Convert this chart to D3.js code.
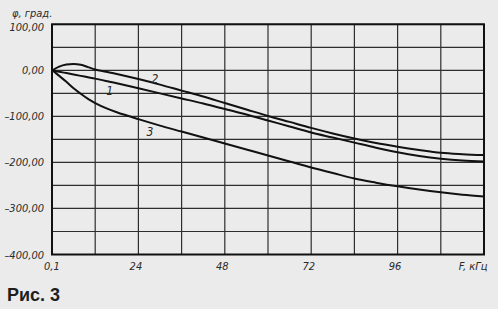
<!DOCTYPE html>
<html>
<head>
<meta charset="utf-8">
<script src="https://cdnjs.cloudflare.com/ajax/libs/d3/7.8.5/d3.min.js"></script>
<style>
  body { margin: 0; background: #ebebeb; }
  svg { display: block; }
</style>
</head>
<body>
<svg width="498" height="309"></svg>
<script>
// frequency, kHz
var freq = [0.1, 2, 4, 6, 8, 10, 12, 15, 18, 24, 30, 36, 42, 48, 54, 60, 66, 72, 78, 84, 90, 96, 102, 108, 114, 120];
// phase, degrees
var curve1 = [0, -3, -6, -9, -12, -15, -18, -23, -28, -39, -50, -61, -72, -84, -96, -109, -122, -135, -146, -157, -168, -178, -186, -192, -196, -198];
var curve2 = [0, 8, 12.5, 14, 12, 7, 2, -3, -8, -19, -31, -44, -57, -71, -85, -99, -112, -125, -137, -148, -158, -166, -173, -179, -182, -184];
var curve3 = [0, -12, -25, -39, -51, -62, -71, -82, -91, -106, -120, -133, -146, -159, -172, -185, -198, -211, -223, -235, -244, -252, -259, -265, -270, -274];

var yTicks = [100, 0, -100, -200, -300, -400];
var xTicks = [0.1, 24, 48, 72, 96, 120];
var xTickLabels = ["0,1", "24", "48", "72", "96", "F, кГц"];
var curveNames = ["1", "2", "3"];
var labelAt = [[16, -45], [28.6, -19], [27.2, -134]];

var svg = d3.select("svg"),
    plot = {left: 52, right: 484, top: 24.3, bottom: 254.5};

var x = d3.scaleLinear().domain([0, 120]).range([plot.left, plot.right]);
var y = d3.scaleLinear().domain([-400, 100]).range([plot.bottom, plot.top]);

var fontLab = "'DejaVu Sans Condensed', 'DejaVu Sans', sans-serif";

// grid
var g = svg.append("g");
g.selectAll(".vx").data(d3.range(0, 121, 12)).enter().append("line")
    .attr("x1", function (d) { return x(d); })
    .attr("x2", function (d) { return x(d); })
    .attr("y1", plot.top).attr("y2", plot.bottom)
    .style("stroke", "#2e2e2e").style("stroke-width", 1.2);
g.selectAll(".hy").data(d3.range(-400, 101, 50)).enter().append("line")
    .attr("y1", function (d) { return y(d); })
    .attr("y2", function (d) { return y(d); })
    .attr("x1", plot.left).attr("x2", plot.right)
    .style("stroke", "#2e2e2e").style("stroke-width", 1.2);

// frame
svg.append("rect")
    .attr("x", plot.left).attr("y", plot.top)
    .attr("width", plot.right - plot.left).attr("height", plot.bottom - plot.top)
    .style("fill", "none").style("stroke", "#111").style("stroke-width", 2);

// axes
var yAxis = d3.axisLeft(y).tickValues(yTicks).tickSize(0).tickPadding(8)
    .tickFormat(function (d) { return (d < 0 ? "\u2013" : "") + Math.abs(d).toFixed(2).replace(".", ","); });
var ya = svg.append("g").attr("transform", "translate(" + plot.left + ",0)").call(yAxis);
ya.select(".domain").remove();
ya.selectAll("text").style("font-family", fontLab).style("font-style", "italic")
    .style("font-size", "11px").style("fill", "#2a2a2a")
    .attr("y", function (d) { return d == 100 ? 2.5 : 0; });

var xAxis = d3.axisBottom(x).tickValues(xTicks).tickSize(0).tickPadding(8)
    .tickFormat(function (d, i) { return xTickLabels[i]; });
var xa = svg.append("g").attr("transform", "translate(0," + plot.bottom + ")").call(xAxis);
xa.select(".domain").remove();
xa.selectAll("text").style("font-family", fontLab).style("font-style", "italic")
    .style("font-size", "11px").style("fill", "#2a2a2a")
    .style("text-anchor", function (d, i) { return i == xTicks.length - 1 ? "end" : "middle"; })
    .attr("dx", function (d, i) { return i == xTicks.length - 1 ? 3 : (i == 0 ? -1 : -3); });

// y title
svg.append("text")
    .attr("x", 12).attr("y", 17)
    .style("font-family", fontLab).style("font-style", "italic")
    .style("font-size", "11px").style("fill", "#2a2a2a")
    .text("φ, град.");

// curves
var line = d3.line()
    .x(function (d) { return x(d[0]); })
    .y(function (d) { return y(d[1]); })
    .curve(d3.curveCatmullRom);

[curve1, curve2, curve3].forEach(function (vals, k) {
    var pts = freq.map(function (f, i) { return [f, vals[i]]; });
    svg.append("path").datum(pts)
        .attr("d", line)
        .style("fill", "none").style("stroke", "#111").style("stroke-width", 2);
    svg.append("text")
        .attr("x", x(labelAt[k][0])).attr("y", y(labelAt[k][1]))
        .attr("dy", "0.35em").attr("text-anchor", "middle")
        .style("font-family", fontLab).style("font-style", "italic")
        .style("font-size", "12px").style("fill", "#2a2a2a")
        .text(curveNames[k]);
});

// caption
svg.append("text")
    .attr("x", 7).attr("y", 301)
    .style("font-family", "'Liberation Sans', Arial, sans-serif").style("font-weight", "bold")
    .style("font-size", "18px").style("fill", "#1e1e1e")
    .text("Рис. 3");
</script>
</body>
</html>
